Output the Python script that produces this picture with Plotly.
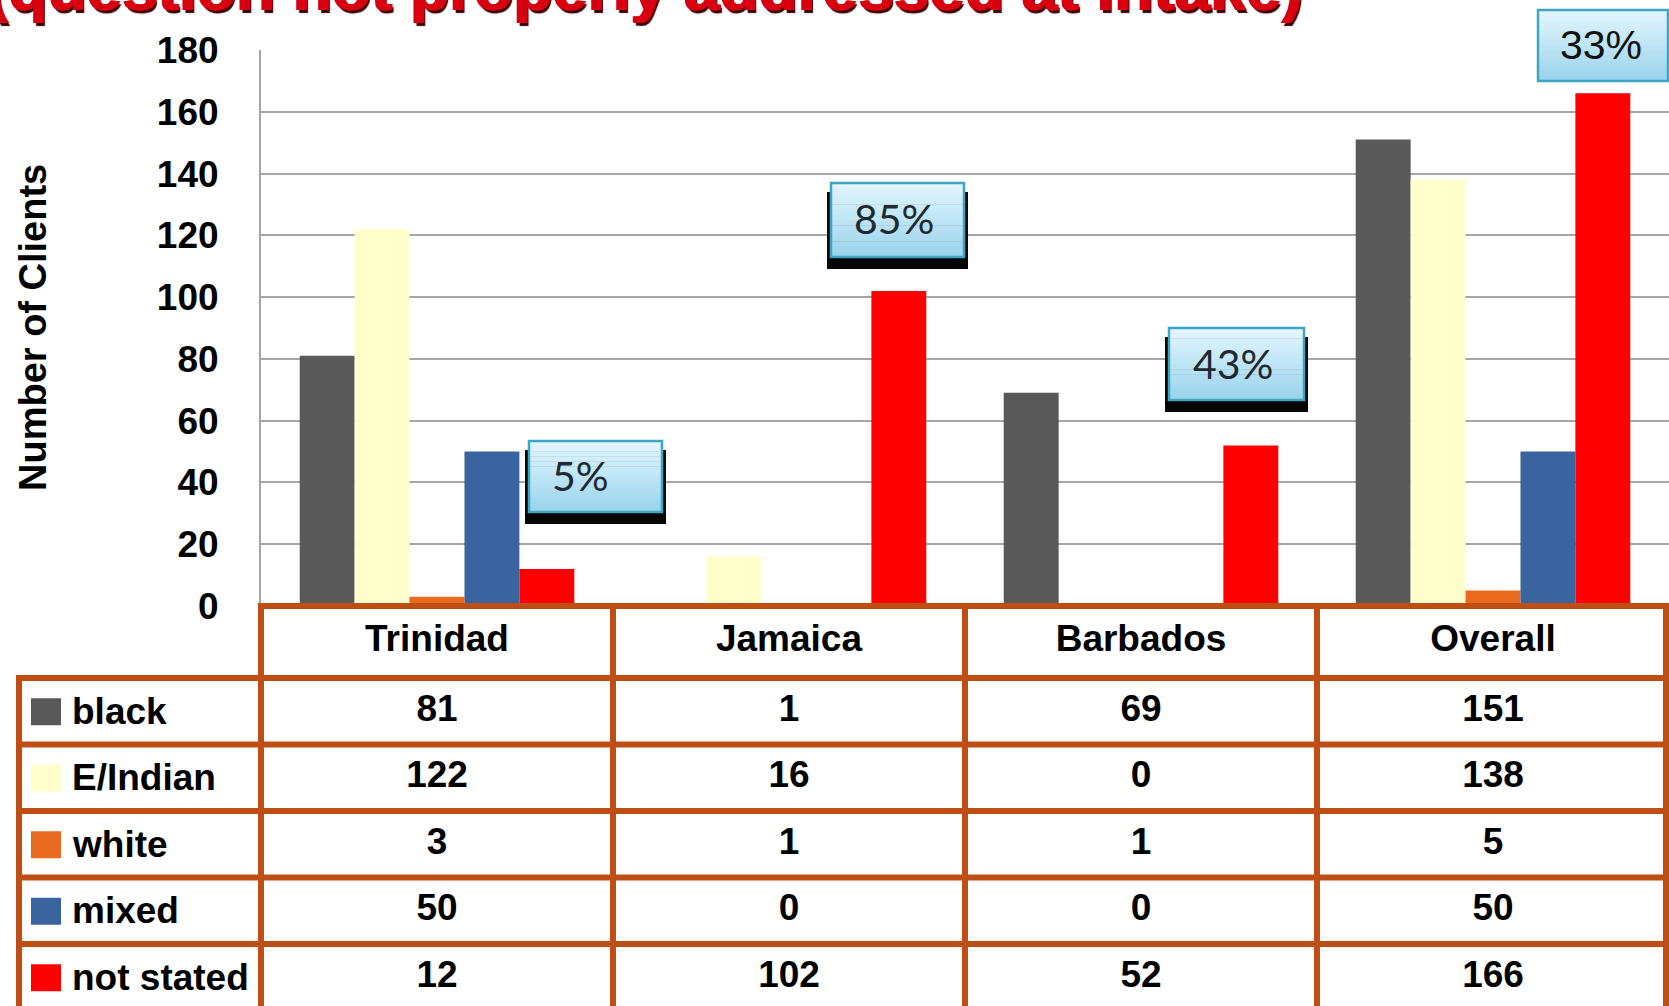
import plotly.graph_objects as go

# ---------------- data ----------------
CATEGORIES = ["Trinidad", "Jamaica", "Barbados", "Overall"]
SERIES = ["black", "E/Indian", "white", "mixed", "not stated"]
BLACK = [81, 1, 69, 151]
E_INDIAN = [122, 16, 0, 138]
WHITE = [3, 1, 1, 5]
MIXED = [50, 0, 0, 50]
NOT_STATED = [12, 102, 52, 166]
VALUES = [BLACK, E_INDIAN, WHITE, MIXED, NOT_STATED]
COLORS = ["#595959", "#FFFFCC", "#EA6A1F", "#3A64A0", "#FF0000"]
Y_TICKS = [0, 20, 40, 60, 80, 100, 120, 140, 160, 180]
CALLOUTS = ["5%", "85%", "43%", "33%"]
TITLE = "(question not properly addressed at intake)"
Y_TITLE = "Number of Clients"

# ---------------- layout constants (pixels) ----------------
W, H = 1669, 1006
PLOT_L, PLOT_R = 261, 1669
PLOT_T, PLOT_B = 50, 606
TABLE_T = 606
LABEL_L = 19
HEADER_H = 72
ROW_H = 66.5
BORDER = "#BF4E14"
BORDER_W = 6
FONT = "Liberation Sans, Arial, sans-serif"


def px(x):
    return x / W


def py(y):
    return 1 - y / H


def ty(v):
    """table row offset (pixels below the table top) -> paper y"""
    return py(TABLE_T + v)


fig = go.Figure()

# bars
for name, vals, col in zip(SERIES, VALUES, COLORS):
    fig.add_trace(go.Bar(x=CATEGORIES, y=vals, name=name, marker=dict(color=col, line=dict(width=0)),
                         showlegend=False, hoverinfo="x+y+name"))

# table: header text
fig.add_trace(go.Scatter(x=CATEGORIES, y=[HEADER_H / 2] * len(CATEGORIES), text=CATEGORIES, mode="text",
                         textfont=dict(family=FONT, size=37, color="black", weight="bold"),
                         xaxis="x", yaxis="y2", showlegend=False, hoverinfo="skip", cliponaxis=False))

# table: values
for i, vals in enumerate(VALUES):
    yc = HEADER_H + (i + 0.5) * ROW_H
    fig.add_trace(go.Scatter(x=CATEGORIES, y=[yc] * len(CATEGORIES), text=[str(v) for v in vals], mode="text",
                             textfont=dict(family=FONT, size=37, color="black", weight="bold"),
                             xaxis="x", yaxis="y2", showlegend=False, hoverinfo="skip", cliponaxis=False))

shapes = []
annotations = []

# table grid lines
col_w = (PLOT_R - PLOT_L) / len(CATEGORIES)
shapes.append(dict(type="line", xref="paper", yref="paper", x0=px(PLOT_L - 3), x1=1, y0=ty(0), y1=ty(0),
                   line=dict(color=BORDER, width=BORDER_W), layer="above"))
for k in range(len(SERIES)):
    yb = HEADER_H + k * ROW_H
    shapes.append(dict(type="line", xref="paper", yref="paper", x0=px(LABEL_L - 3), x1=1, y0=ty(yb), y1=ty(yb),
                       line=dict(color=BORDER, width=BORDER_W), layer="above"))
shapes.append(dict(type="line", xref="paper", yref="paper", x0=px(LABEL_L), x1=px(LABEL_L), y0=ty(HEADER_H - 3),
                   y1=0, line=dict(color=BORDER, width=BORDER_W), layer="above"))
for i in range(len(CATEGORIES) + 1):
    xv = min(PLOT_L + i * col_w, W - 3)
    shapes.append(dict(type="line", xref="paper", yref="paper", x0=px(xv), x1=px(xv), y0=ty(-3), y1=0,
                       line=dict(color=BORDER, width=BORDER_W), layer="above"))

# legend swatches + row labels
for i, (name, col) in enumerate(zip(SERIES, COLORS)):
    yc = HEADER_H + (i + 0.5) * ROW_H
    shapes.append(dict(type="rect", xref="paper", yref="paper", x0=px(31), x1=px(61), y0=ty(yc + 14),
                       y1=ty(yc - 13), fillcolor=col, line=dict(width=0), layer="above"))
    annotations.append(dict(text=name, xref="paper", yref="y2", x=px(70), y=yc, xanchor="left",
                            yanchor="middle", showarrow=False,
                            font=dict(family=FONT, size=37, color="black", weight="bold")))

# callout boxes (x0, y0, x1, y1, text centre x, text centre y, shadow?)
BOXES = [
    (529, 441, 662, 512, 580, 475, True),
    (831, 183, 964, 257, 894, 219, True),
    (1169, 328, 1304, 400, 1233, 363, True),
    (1538, 10, 1668, 81, 1601, 45, False),
]
TOP_C = (225, 245, 254)
BOT_C = (155, 212, 236)
for (x0, y0, x1, y1, tx, tyc, shadow), label in zip(BOXES, CALLOUTS):
    if shadow:
        shapes.append(dict(type="rect", xref="paper", yref="paper", x0=px(x0 - 4), x1=px(x1 + 4),
                           y0=py(y1 + 12), y1=py(y0 + 9), fillcolor="#050505", line=dict(width=0),
                           layer="above"))
    n = 14
    for j in range(n):
        t = j / (n - 1)
        c = tuple(round(TOP_C[k] + (BOT_C[k] - TOP_C[k]) * t) for k in range(3))
        ya = y0 + (y1 - y0) * j / n
        yb = y0 + (y1 - y0) * (j + 1) / n
        shapes.append(dict(type="rect", xref="paper", yref="paper", x0=px(x0), x1=px(x1), y0=py(yb + 0.5),
                           y1=py(ya), fillcolor="rgb(%d,%d,%d)" % c, line=dict(width=0), layer="above"))
    shapes.append(dict(type="rect", xref="paper", yref="paper", x0=px(x0), x1=px(x1), y0=py(y1), y1=py(y0),
                       fillcolor="rgba(0,0,0,0)", line=dict(color="#3FA6C2", width=2.5), layer="above"))
    if shadow:
        annotations.append(dict(text=label, xref="paper", yref="paper", x=px(tx), y=py(tyc), xanchor="center",
                                yanchor="middle", showarrow=False,
                                font=dict(family="Lato, Open Sans, sans-serif", size=41, color="#1F2A30")))
    else:
        annotations.append(dict(text=label, xref="paper", yref="paper", x=px(tx), y=py(tyc), xanchor="center",
                                yanchor="middle", showarrow=False,
                                font=dict(family=FONT, size=41, color="#111111")))

# y-axis title
annotations.append(dict(text=Y_TITLE, xref="paper", yref="paper", x=px(33), y=py(328), xanchor="center",
                        yanchor="middle", textangle=-90, showarrow=False,
                        font=dict(family=FONT, size=38, color="black", weight="bold")))

# cropped title (only the lower part is visible, as in the reference)
annotations.append(dict(text=TITLE, xref="paper", yref="paper", x=px(1305), y=py(26),
                        xanchor="right", yanchor="bottom", showarrow=False,
                        font=dict(family=FONT, size=64, color="#D80010", weight="bold",
                                  shadow="1px 0 0 #D80010, -1px 0 0 #D80010, 2px 3px 1px #3A0000")))

fig.update_layout(
    width=W, height=H,
    margin=dict(l=0, r=0, t=0, b=0, autoexpand=False),
    paper_bgcolor="white", plot_bgcolor="white",
    barmode="group", bargap=0.22, bargroupgap=0,
    xaxis=dict(domain=[px(PLOT_L), px(PLOT_R)], showticklabels=False, showgrid=False, zeroline=False,
               showline=False, ticks="", anchor="y", automargin=False),
    yaxis=dict(domain=[py(PLOT_B), py(PLOT_T)], range=[0, 180], tickvals=Y_TICKS, ticks="",
               showgrid=True, gridcolor="#A6A6A6", gridwidth=2, zeroline=False,
               showline=True, linecolor="#A6A6A6", linewidth=2, anchor="x", automargin=False,
               tickfont=dict(family=FONT, size=37, color="black", weight="bold"),
               ticklabelstandoff=33),
    yaxis2=dict(domain=[0, py(TABLE_T)], range=[H - TABLE_T, 0], visible=False, showgrid=False,
                zeroline=False, anchor="x", automargin=False),
    shapes=shapes,
    annotations=annotations,
)

fig.write_html("out.html", config={"displayModeBar": False},
               post_script="document.body.style.margin='0px';document.body.style.overflow='hidden';")
